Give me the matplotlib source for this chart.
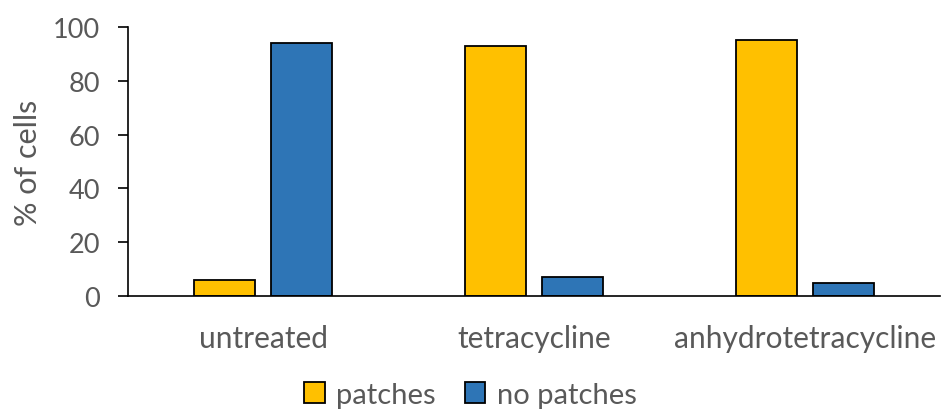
import matplotlib
matplotlib.use("Agg")
import matplotlib.pyplot as plt
import numpy as np
from matplotlib.patches import Patch

categories = ["untreated", "tetracycline", "anhydrotetracycline"]
patches_pct = [6, 93, 95]
no_patches_pct = [94, 7, 5]
y_ticks = [0, 20, 40, 60, 80, 100]

plt.rcParams['font.family'] = ['Lato', 'DejaVu Sans']
text_color = "#595959"

fig = plt.figure(figsize=(9.41, 4.10), dpi=100)
ax = fig.add_axes([0.136, 0.2756, 0.863, 0.6561])

x = np.arange(len(categories))
w = 0.226
off = 0.1425
ax.bar(x - off, patches_pct, width=w, color="#FFC000", edgecolor="black", linewidth=1.3, label="patches")
ax.bar(x + off, no_patches_pct, width=w, color="#2E75B6", edgecolor="black", linewidth=1.3, label="no patches")

ax.set_xlim(-0.5, 2.5)
ax.set_ylim(0, 100)
ax.set_yticks(y_ticks)
ax.set_xticks(x)
ax.set_xticklabels(categories)
ax.tick_params(axis='y', labelsize=19.5, colors=text_color, length=7, width=1.2, color="black", pad=13)
ax.tick_params(axis='x', labelsize=21.5, colors=text_color, length=0, pad=20)
for s in ["top", "right"]:
    ax.spines[s].set_visible(False)
ax.spines["left"].set_linewidth(1.2)
ax.spines["bottom"].set_linewidth(1.2)
ax.set_ylabel("% of cells", fontsize=22, color=text_color, labelpad=8)

handles = [Patch(facecolor="#FFC000", edgecolor="black", linewidth=1.3, label="patches"),
           Patch(facecolor="#2E75B6", edgecolor="black", linewidth=1.3, label="no patches")]
fig.legend(handles=handles, loc="center", bbox_to_anchor=(0.5, 0.035), ncol=2, frameon=False,
           fontsize=21, labelcolor=text_color, handlelength=0.7, handleheight=0.7,
           handletextpad=0.4, columnspacing=1.0)

fig.savefig("out.png", dpi=100)
